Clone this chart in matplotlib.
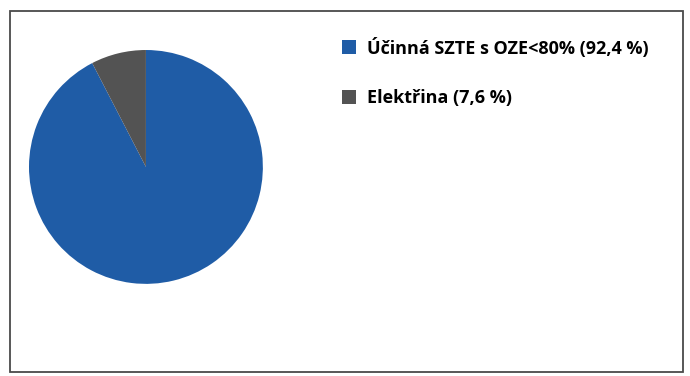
import matplotlib
matplotlib.use("Agg")
import matplotlib.pyplot as plt
from matplotlib.patches import Rectangle

labels = ["Účinná SZTE s OZE<80%", "Elektřina"]
shares = [92.4, 7.6]
colors = ["#1f5ca6", "#535353"]


def graph_share():
    fig = plt.figure(figsize=(6.9, 3.76), dpi=100)
    fig.patch.set_facecolor("white")

    # frame round the whole chart
    fig.patches.append(Rectangle((10 / 690, 4 / 376), 673 / 690, 361 / 376,
                                 transform=fig.transFigure, fill=False,
                                 edgecolor="#4a4a4a", linewidth=1.3))

    ax = fig.add_axes([0.042, 0.245, 0.339, 0.622])
    wedges, _ = ax.pie(shares, colors=colors, startangle=90, counterclock=False,
                       wedgeprops=dict(linewidth=0))
    ax.set_xlim(-1, 1)
    ax.set_ylim(-1, 1)
    ax.set_aspect("equal")

    legend_labels = [f"{name} ({str(v).replace('.', ',')} %)" for name, v in zip(labels, shares)]
    fig.legend(wedges, legend_labels, loc="upper left",
               bbox_to_anchor=(0.4957, 0.9), frameon=False,
               prop=dict(family="Open Sans", weight="bold", size=13),
               handlelength=0.8, handleheight=0.8, handletextpad=0.6,
               labelspacing=1.75, borderpad=0, borderaxespad=0)

    fig.savefig("out.png", dpi=100)


if __name__ == "__main__":
    graph_share()
